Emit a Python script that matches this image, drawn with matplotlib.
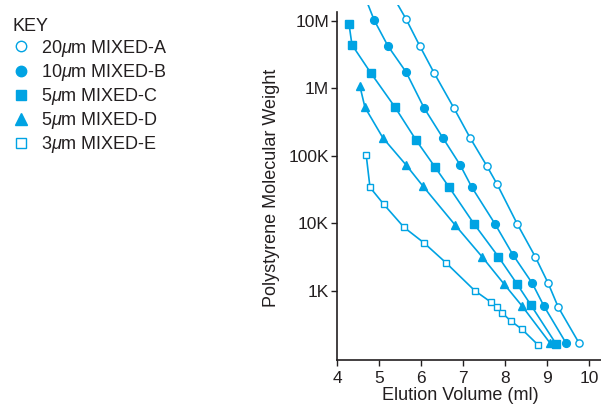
# coding=utf-8
# GPC column calibration: polystyrene molecular weight vs elution volume
import numpy as np
import matplotlib
matplotlib.use('Agg')
import matplotlib.pyplot as plt
from matplotlib.lines import Line2D

plt.rcParams['font.family'] = ['Liberation Sans', 'DejaVu Sans']
plt.rcParams['mathtext.fontset'] = 'custom'
plt.rcParams['mathtext.it'] = 'Liberation Sans:italic'
plt.rcParams['mathtext.rm'] = 'Liberation Sans'

INK = '#231f20'
BLUE = '#00a3e3'

# elution volume (ml) / molecular weight for each column
vol_a = [5.25, 5.64, 5.97, 6.31, 6.78, 7.17, 7.57, 7.81, 8.29, 8.72, 9.03, 9.27, 9.77]
mw_a = [2.8e7, 1.06e7, 4.2e6, 1.68e6, 5.1e5, 1.83e5, 7.0e4, 3.8e4, 9.8e3, 3.2e3, 1290, 570, 166]

vol_b = [4.60, 4.88, 5.21, 5.64, 6.07, 6.52, 6.93, 7.21, 7.76, 8.19, 8.65, 8.93, 9.46]
mw_b = [2.8e7, 1.02e7, 4.2e6, 1.74e6, 5.1e5, 1.83e5, 7.3e4, 3.4e4, 9.8e3, 3.4e3, 1290, 590, 166]

vol_c = [4.28, 4.35, 4.80, 5.38, 5.88, 6.33, 6.67, 7.26, 7.84, 8.29, 8.62, 9.22]
mw_c = [8.9e6, 4.4e6, 1.68e6, 5.2e5, 1.7e5, 6.8e4, 3.4e4, 9.8e3, 3.2e3, 1250, 610, 162]

vol_d = [4.54, 4.66, 5.09, 5.64, 6.05, 6.81, 7.45, 7.98, 8.41, 9.08]
mw_d = [1.07e6, 5.2e5, 1.83e5, 7.3e4, 3.5e4, 9.4e3, 3.2e3, 1250, 590, 166]

vol_e = [4.69, 4.78, 5.11, 5.59, 6.07, 6.59, 7.28, 7.66, 7.81, 7.93, 8.14, 8.40, 8.79]
mw_e = [1.02e5, 3.4e4, 1.9e4, 8.7e3, 5.1e3, 2.6e3, 1000, 680, 570, 470, 355, 270, 157]

labels = ['20$\\mu$m MIXED-A', '10$\\mu$m MIXED-B', '5$\\mu$m MIXED-C',
          '5$\\mu$m MIXED-D', '3$\\mu$m MIXED-E']

x_ticks = [4, 5, 6, 7, 8, 9, 10]
y_ticks = [1e3, 1e4, 1e5, 1e6, 1e7]
y_ticklabels = ['1K', '10K', '100K', '1M', '10M']

fig = plt.figure(figsize=(6.01, 4.05), dpi=100)
ax = fig.add_axes([0.5612, 0.1111, 0.4388, 0.8766])

series = [
    (vol_a, mw_a, 'o', 'white', 5.2),
    (vol_b, mw_b, 'o', BLUE, 5.6),
    (vol_c, mw_c, 's', BLUE, 5.4),
    (vol_d, mw_d, '^', BLUE, 6.2),
    (vol_e, mw_e, 's', 'white', 5.0),
]
for vol, mw, mk, fc, ms in series:
    ax.plot(vol, mw, color=BLUE, lw=1.2, marker=mk, ms=ms, mfc=fc,
            mec=BLUE, mew=1.0, clip_on=True)

ax.set_yscale('log')
ax.set_xlim(4, 10.29)
ax.set_ylim(94, 1.71e7)
ax.set_xticks(x_ticks)
ax.set_xticklabels([str(v) for v in x_ticks])
ax.set_yticks(y_ticks)
ax.set_yticklabels(y_ticklabels)
ax.yaxis.set_minor_locator(matplotlib.ticker.NullLocator())

for side in ['top', 'right']:
    ax.spines[side].set_visible(False)
for side in ['left', 'bottom']:
    ax.spines[side].set_color(INK)
    ax.spines[side].set_linewidth(1.2)
ax.spines['left'].set_bounds(94, 1.35e7)
ax.tick_params(direction='out', length=4, width=1.0, color=INK,
               labelcolor=INK, labelsize=12.5, pad=2)
ax.tick_params(axis='x', pad=4)

fig.text(272 / 601, 1 - 188 / 405, 'Polystyrene Molecular Weight', rotation=90,
         ha='center', va='center', fontsize=13, color=INK)
fig.text(460 / 601, 1 / 405, 'Elution Volume (ml)',
         ha='center', va='bottom', fontsize=13, color=INK)

# key
handles = [Line2D([], [], ls='none', marker=mk, ms=8.5 if mk == '^' else 7.5,
                  mfc=fc, mec=BLUE, mew=1.0)
           for _, _, mk, fc, _ in series]
leg = fig.legend(handles, labels, title='KEY', loc='upper left',
                 bbox_to_anchor=(0.002, 0.983), frameon=False, fontsize=13,
                 title_fontsize=13, alignment='left', handlelength=1.0,
                 handletextpad=0.6, labelspacing=0.17, borderaxespad=0.2)
for t in leg.get_texts():
    t.set_color(INK)
leg.get_title().set_color(INK)

plt.savefig('out.png', dpi=100)
plt.close()
